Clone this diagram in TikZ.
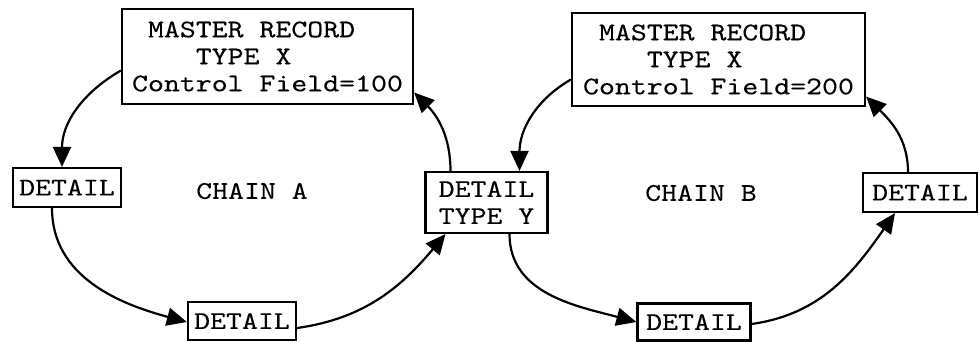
\documentclass[tikz,border=0pt]{standalone}
\usepackage{fontspec}
\usetikzlibrary{arrows.meta,calc}
% typewriter face, widened and slightly darkened to the look of a typed page
\newfontfamily\tw{lmmono10-regular}[Extension=.otf, FakeStretch=1.19, FakeBold=0.25]
\tikzset{
  box/.style={draw, line width=2.2pt, inner sep=0pt, align=left,
              font=\tw\fontsize{25.5}{27}\selectfont},
  lbl/.style={font=\tw\fontsize{25.5}{27}\selectfont},
  link/.style={line width=2.2pt, -{Triangle[length=20pt,width=18pt]}},
}
\begin{document}
\begin{tikzpicture}[x=1pt,y=-1pt]
\useasboundingbox (0,0) rectangle (980,341);

% master records
\node[box, minimum width=291pt, minimum height=95pt] (mA) at (267.5,56.5)
  {\phantom{M}MASTER RECORD\\\phantom{MMMM}TYPE X\\Control Field=100};
\node[box, minimum width=293pt, minimum height=93pt] (mB) at (718.5,59.5)
  {\phantom{M}MASTER RECORD\\\phantom{MMMM}TYPE X\\Control Field=200};

% detail records
\node[box, minimum width=108pt, minimum height=39pt] (dL) at (67,187.5) {DETAIL};
\node[box, minimum width=108pt, minimum height=38pt] (dA) at (242,321) {DETAIL};
\node[box, minimum width=122pt, minimum height=61pt] (dY) at (486.5,202.5) {DETAIL\\TYPE Y};
\node[box, minimum width=113pt, minimum height=37pt] (dB) at (694,322) {DETAIL};
\node[box, minimum width=114pt, minimum height=39pt] (dR) at (920,192.5) {DETAIL};

% chain names
\node[lbl] (cA) at (252,191) {CHAIN A};
\node[lbl] (cB) at (701,193) {CHAIN B};

% chain A
\draw[link] ([yshift=-14pt]mA.west) to[out=210,in=90] ([xshift=-5pt]dL.north);
\draw[link] ([xshift=-15pt]dL.south) to[out=-90,in=165] ([yshift=-1pt]dA.west);
\draw[link] ([yshift=-7pt]dA.east) to[out=8,in=230] ([xshift=-41pt]dY.south);
\draw[link] ([xshift=-36pt]dY.north) to[out=90,in=-45] ([yshift=-36pt]mA.east);

% chain B
\draw[link] ([yshift=-20pt]mB.west) to[out=210,in=90] ([xshift=33pt]dY.north);
\draw[link] ([xshift=23pt]dY.south) to[out=-90,in=165] ([yshift=0pt]dB.west);
\draw[link] ([yshift=-2pt]dB.east) to[out=8,in=235] ([xshift=-25pt]dR.south);
\draw[link] ([xshift=-12pt]dR.north) to[out=90,in=-45] ([yshift=-37pt]mB.east);
\end{tikzpicture}
\end{document}
